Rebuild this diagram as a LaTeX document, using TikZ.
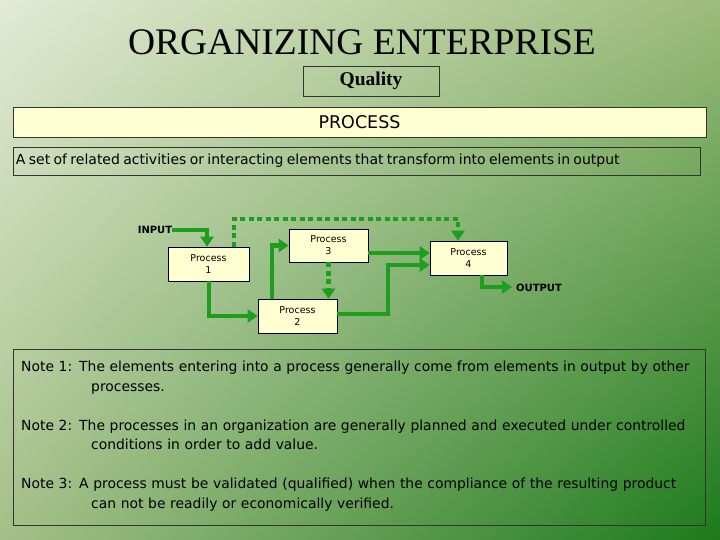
\documentclass[tikz,border=0pt]{standalone}
\usepackage{fontspec}
\setmainfont{DejaVu Sans}
\newfontfamily\titlefont{Liberation Serif}
\usetikzlibrary{arrows.meta,shadings}
\definecolor{bgTL}{HTML}{E2EAD4}
\definecolor{bgTR}{HTML}{9CBC7A}
\definecolor{bgBL}{HTML}{A4C088}
\definecolor{bgBR}{HTML}{1C7A1C}
\definecolor{cream}{HTML}{FFFFD2}
\definecolor{flow}{HTML}{1E9E1E}
\begin{document}
\begin{tikzpicture}[x=1pt,y=-1pt,
  pbox/.style={draw=black,fill=cream,line width=0.6pt,inner sep=0pt,font=\fontsize{9.5}{12}\selectfont,align=center,text depth=-3pt},
  flowline/.style={draw=flow,line width=4.5pt,-{Triangle[length=10pt,width=13pt]}},
  dotline/.style={draw=flow,line width=4.5pt,dash pattern=on 5pt off 3.5pt,-{Triangle[length=10pt,width=13pt]}},
  frame/.style={draw=black!80,line width=0.6pt}]
\useasboundingbox (0,0) rectangle (720,540);
\shade[upper left=bgTL,upper right=bgTR,lower left=bgBL,lower right=bgBR] (0,0) rectangle (720,540);
\node (title) at (362,42) {\titlefont\fontsize{37.5}{40}\selectfont ORGANIZING ENTERPRISE};
\node[frame,minimum width=136pt,minimum height=30pt,inner sep=0pt] (quality) at (371,81) {\titlefont\bfseries\fontsize{19.5}{22}\selectfont Quality};
\node[frame,fill=cream,minimum width=693pt,minimum height=30pt,inner sep=0pt] (process) at (359.5,122) {\fontsize{17.5}{20}\selectfont PROCESS};
\node[frame,minimum width=687pt,minimum height=28pt,inner sep=0pt,text width=681pt,align=left] (defn) at (356.5,161) {\fontsize{14}{16}\selectfont A set of related activities or interacting elements that transform into elements in output};
% processes
\node[pbox,minimum width=81pt,minimum height=34pt] (p1) at (208.5,264) {Process\\1};
\node[pbox,minimum width=79pt,minimum height=33pt] (p3) at (328.5,245.5) {Process\\3};
\node[pbox,minimum width=77pt,minimum height=34pt] (p4) at (468.5,258) {Process\\4};
\node[pbox,minimum width=79pt,minimum height=34pt] (p2) at (297.5,316) {Process\\2};
\node[font=\bfseries\fontsize{10}{12}\selectfont,inner sep=0pt] (input) at (155,230) {INPUT};
\node[font=\bfseries\fontsize{10}{12}\selectfont,inner sep=0pt,anchor=west] (output) at (516,288) {OUTPUT};
\coordinate (outend) at (512,287);
% connectors
\draw[flowline] (input.east) -| (p1.north -| 207,0);
\draw[dotline] (p1.north -| 234,0) |- (458,219) -- (p4.north -| 458,0);
\draw[flowline] (p1.south -| 209,0) |- (p2.west);
\draw[flowline] (p2.north -| 272,0) |- (p3.west);
\draw[dotline] (p3.south) -- (p2.north -| p3.south);
\draw[flowline] (p3.east |- 0,253) -- (p4.west |- 0,253);
\draw[flowline] (p2.east |- 0,314) -| (388,265) -- (p4.west |- 0,265);
\draw[flowline] (p4.south -| 482,0) |- (outend);
% notes
\node[frame,minimum width=692pt,minimum height=176pt,inner sep=0pt] (notes) at (359,437) {};
\node[anchor=north west,inner sep=0pt,text width=690pt,align=left,font=\fontsize{13.9}{19.5}\selectfont] (ntext) at (21,361) {%
Note 1: The elements entering into a process generally come from elements in output by other\\\hspace*{70pt}processes.\\[19.5pt]
Note 2: The processes in an organization are generally planned and executed under controlled\\\hspace*{70pt}conditions in order to add value.\\[19.5pt]
Note 3: A process must be validated (qualified) when the compliance of the resulting product\\\hspace*{70pt}can not be readily or economically verified.};
\end{tikzpicture}
\end{document}
